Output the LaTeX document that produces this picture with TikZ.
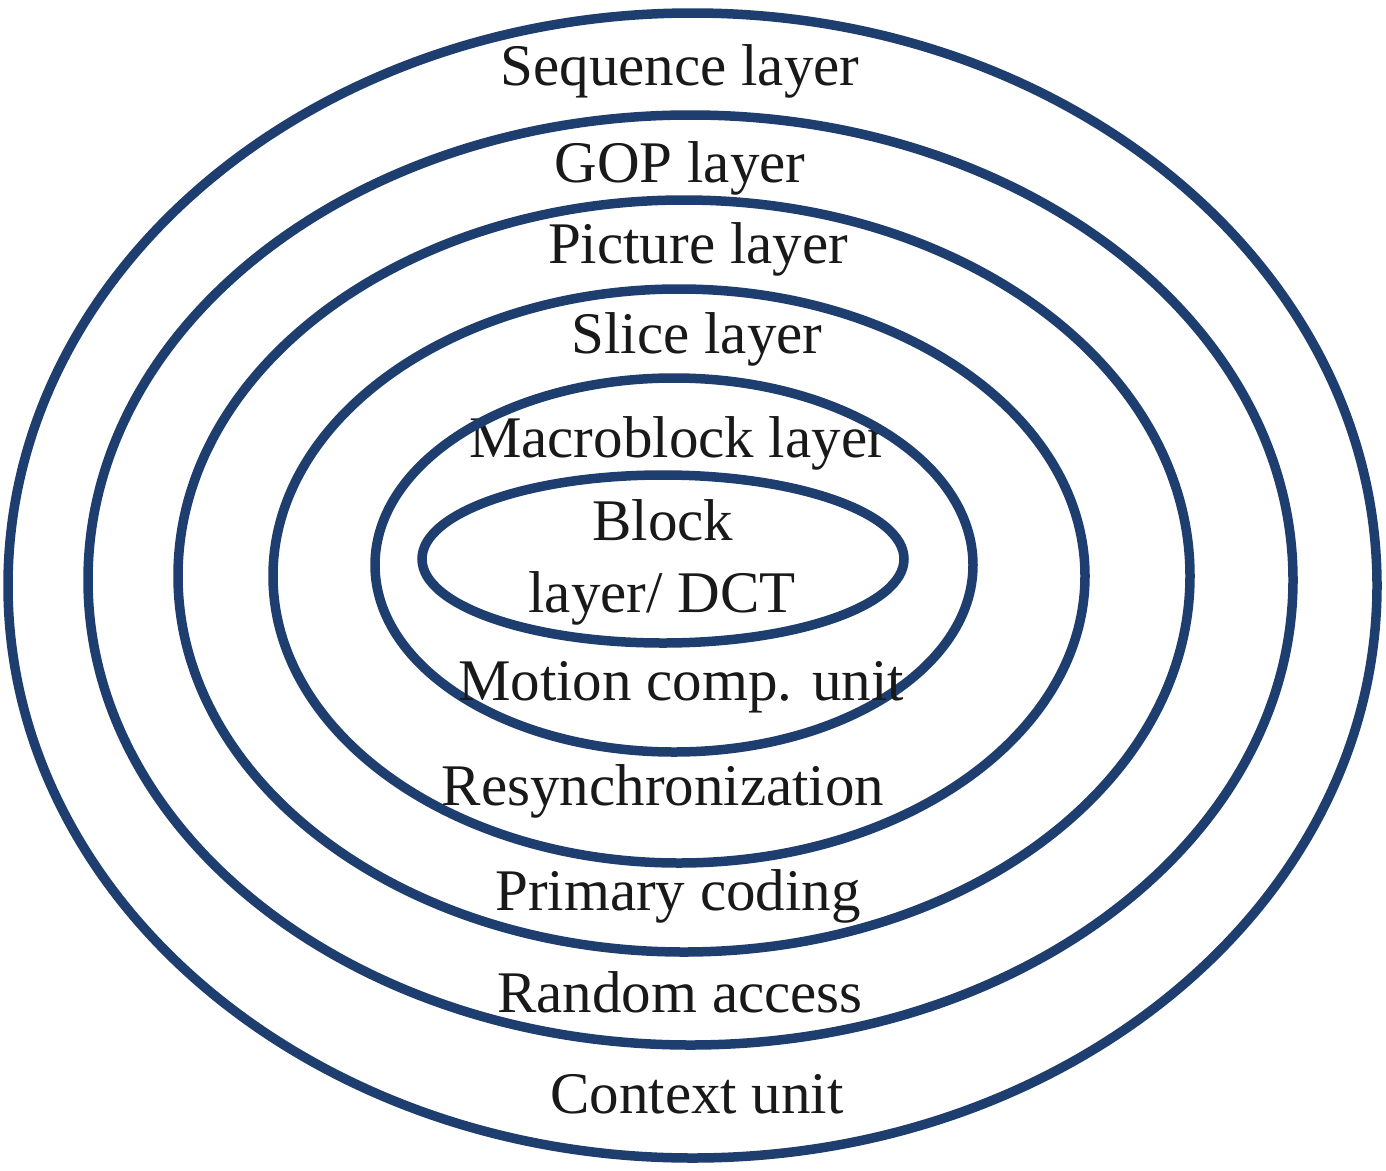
\documentclass[tikz,border=0pt]{standalone}
\usepackage{fontspec}
\setmainfont{Liberation Serif}
\definecolor{ringblue}{RGB}{31,62,112}
\definecolor{txt}{RGB}{25,25,25}
\begin{document}
\begin{tikzpicture}[x=1pt,y=-1pt,
  ring/.style={draw=ringblue,line width=9.5pt},
  lbl/.style={anchor=base,inner sep=0pt,text=txt,font=\fontsize{59}{70}\selectfont}]
\useasboundingbox[fill=white] (0,0) rectangle (1386,1170);
\node[lbl] (mb) at (678,457) {Macroblock layer};
\draw[ring] (692.5,585.5) ellipse [x radius=684.5pt, y radius=572.5pt];
\draw[ring] (690.5,580) ellipse [x radius=602.5pt, y radius=465pt];
\draw[ring] (684,576) ellipse [x radius=506pt, y radius=376pt];
\draw[ring] (679,576) ellipse [x radius=406pt, y radius=287pt];
\draw[ring] (674,565) ellipse [x radius=299pt, y radius=187pt];
\draw[ring] (663,559) ellipse [x radius=241pt, y radius=84pt];
\node[lbl] (seq) at (680,85) {Sequence layer};
\node[lbl] (gop) at (680,182) {GOP layer};
\node[lbl] (pic) at (698,263) {Picture layer};
\node[lbl] (sli) at (697,353) {Slice layer};
\node[lbl] (blk) at (663,540) {Block};
\node[lbl] (dct) at (662,612) {layer/ DCT};
\node[lbl] (mot) at (681,700) {Motion comp. unit};
\node[lbl] (res) at (663,805) {Resynchronization};
\node[lbl] (pri) at (678,910) {Primary coding};
\node[lbl] (ran) at (680,1012) {Random access};
\node[lbl] (ctx) at (697,1113) {Context unit};
\end{tikzpicture}
\end{document}
